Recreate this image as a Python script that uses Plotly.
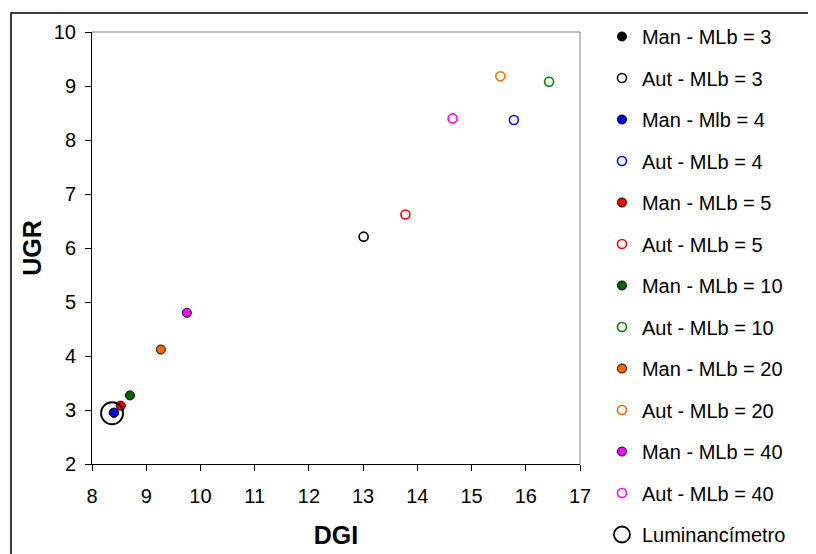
import plotly.graph_objects as go

names = ["Man - MLb = 3", "Aut - MLb = 3", "Man - Mlb = 4", "Aut - MLb = 4",
         "Man - MLb = 5", "Aut - MLb = 5", "Man - MLb = 10", "Aut - MLb = 10",
         "Man - MLb = 20", "Aut - MLb = 20", "Man - MLb = 40", "Aut - MLb = 40",
         "Luminancímetro"]
dgi = [8.40, 13.01, 8.41, 15.78, 8.53, 13.78, 8.70, 16.43, 9.27, 15.53, 9.75, 14.65, 8.37]
ugr = [2.95, 6.21, 2.95, 8.37, 3.08, 6.62, 3.27, 9.08, 4.12, 9.18, 4.80, 8.40, 2.94]
colors = ["#000000", "#000000", "#0000FF", "#0000FF", "#FF0000", "#FF0000",
          "#006400", "#008000", "#FF6600", "#FF6600", "#FF00FF", "#FF00FF", "#000000"]
filled = [True, False, True, False, True, False, True, False, True, False, True, False, False]
x_ticks = list(range(8, 18))
y_ticks = list(range(2, 11))

fig = go.Figure()
for i, n in enumerate(names):
    big = n == "Luminancímetro"
    if filled[i]:
        marker = dict(size=9, color=colors[i], symbol="circle",
                      line=dict(color="#000000", width=1))
    else:
        marker = dict(size=22 if big else 9, color="rgba(0,0,0,0)", symbol="circle",
                      line=dict(color=colors[i], width=1.8 if big else 1.6))
    fig.add_trace(go.Scatter(x=[dgi[i]], y=[ugr[i]], mode="markers", name=n,
                             marker=marker, legendgroup=str(i)))

fig.update_layout(
    width=808, height=546,
    paper_bgcolor="white", plot_bgcolor="white",
    margin=dict(l=84, r=236, t=24, b=90),
    font=dict(family="Liberation Sans, Arial, sans-serif", size=20, color="black"),
    xaxis=dict(range=[8, 17], tickvals=x_ticks, showgrid=False, zeroline=False,
               showline=True, linecolor="black", linewidth=1, automargin=False,
               ticks="outside", ticklen=6, tickcolor="black",
               tickfont=dict(size=20), ticklabelstandoff=8,
               title=dict(text="<b>DGI</b>", font=dict(size=25), standoff=20)),
    yaxis=dict(range=[2, 10], tickvals=y_ticks, showgrid=False, zeroline=False,
               showline=True, linecolor="black", linewidth=1, automargin=False,
               ticks="outside", ticklen=6, tickcolor="black",
               tickfont=dict(size=20), ticklabelstandoff=5,
               title=dict(text="<b>UGR</b>", font=dict(size=25), standoff=5)),
    legend=dict(x=1.045, y=0.997, xanchor="left", yanchor="top",
                font=dict(size=20), tracegroupgap=12.5, bgcolor="rgba(0,0,0,0)",
                maxheight=700),
    shapes=[
        dict(type="line", xref="paper", yref="paper", x0=0, x1=1, y0=1, y1=1,
             line=dict(color="#808080", width=1)),
        dict(type="line", xref="paper", yref="paper", x0=1, x1=1, y0=0, y1=1,
             line=dict(color="#808080", width=1)),
        dict(type="rect", xref="paper", yref="paper", x0=-0.166, x1=1.49,
             y0=-0.22, y1=1.044, line=dict(color="black", width=1.5)),
    ],
)

fig.write_html("out.html")
